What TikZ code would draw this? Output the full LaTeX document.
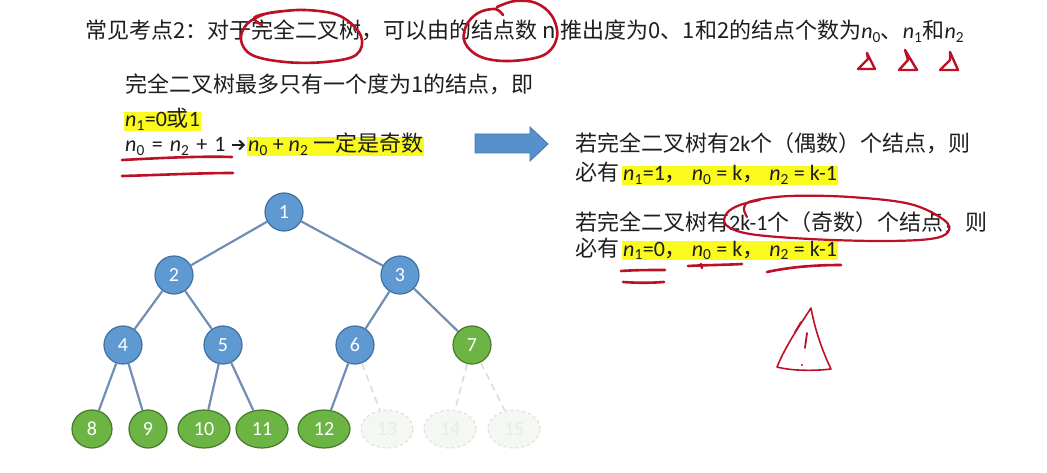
\documentclass[tikz,border=0pt]{standalone}
\usepackage{fontspec}
\setmainfont{Noto Sans CJK SC}
\newfontfamily\lat{Carlito}
\usetikzlibrary{shapes.geometric,arrows.meta}
\newcommand{\nv}[1]{\textit{n}\textsubscript{#1}}
\newcommand{\fs}{\fontsize{22}{26}\selectfont}
\newcommand{\gap}{\hspace{7pt}}
\definecolor{textgray}{RGB}{30,30,30}
\definecolor{hly}{RGB}{250,250,30}
\definecolor{tblue}{RGB}{95,153,210}
\definecolor{tblueb}{RGB}{65,113,160}
\definecolor{edgec}{RGB}{112,142,182}
\definecolor{tgreen}{RGB}{108,180,68}
\definecolor{tgreenb}{RGB}{72,122,44}
\definecolor{ghostfill}{RGB}{245,248,242}
\definecolor{ghostdraw}{RGB}{222,228,218}
\definecolor{ghosttext}{RGB}{232,236,228}
\definecolor{ghostline}{RGB}{218,218,218}
\definecolor{penred}{RGB}{188,16,38}
\definecolor{arrowblue}{RGB}{86,145,205}
\definecolor{arrowblueb}{RGB}{66,118,172}
\begin{document}
\begin{tikzpicture}[x=1pt,y=-1pt,
  txt/.style={anchor=base west, inner sep=0pt, font=\fs, text=textgray},
  hl/.style={txt, fill=hly, text height=15pt, text depth=4pt, inner xsep=1pt, inner ysep=0pt},
  treenode/.style={inner sep=0pt, line width=1.2pt, font=\lat\fontsize{20}{24}\selectfont},
  bnode/.style={treenode, circle, minimum size=38pt, fill=tblue, draw=tblueb, text=white},
  gnode/.style={treenode, ellipse, minimum height=38pt, minimum width=52pt, fill=tgreen, draw=tgreenb, text=white},
  ghost/.style={treenode, ellipse, minimum height=38pt, minimum width=52pt, fill=ghostfill, draw=ghostdraw, dashed, text=ghosttext},
  edge/.style={draw=edgec, line width=2.2pt},
  dedge/.style={draw=ghostline, line width=1.5pt, dash pattern=on 7pt off 5pt},
  pen/.style={draw=penred, line width=2.6pt, line cap=round, line join=round},
  implies/.style={draw=textgray, line width=1.9pt, -{Straight Barb[length=4.5pt,width=9pt,line width=1.9pt]}}
]
\useasboundingbox (0,0) rectangle (1047,473);
\fill[white] (0,0) rectangle (1047,473);

% top line
\node[txt] (top) at (85,39) {常见考点2：对于完全二叉树，可以由的结点数 n 推出度为0、1和2的结点个数为{\lat\nv0}、{\lat\nv1}和{\lat\nv2}};

% left block
\node[txt] (l1) at (125,93) {完全二叉树最多只有一个度为1的结点，即};
\node[hl] (l2) at (124,127) {{\lat\nv1=0}或{\lat 1}};
\node[txt] (l3a) at (125,152) {\lat\nv0\gap=\gap\nv2\gap+\gap1};
\coordinate (ara) at (232,145);
\coordinate (arb) at (245,145);
\draw[implies] (ara) -- (arb);
\node[hl] (l3c) at (247,152) {{\lat\nv0 + \nv2} 一定是奇数};

% block arrow
\filldraw[fill=arrowblue, draw=arrowblueb, line width=0.8pt]
  (475,134) -- (530,134) -- (530,127) -- (548,144) -- (530,161) -- (530,153) -- (475,153) -- cycle;

% right block
\node[txt] (r1) at (575,152) {若完全二叉树有{\lat 2k}个（偶数）个结点，则};
\node[txt] (r2) at (575,181) {必有};
\node[hl] (r2h) at (622,181) {{\lat\nv1=1}，{\lat\ \nv0 = k}，{\lat\ \nv2 = k-1}};
\node[txt] (r3) at (575,231) {若完全二叉树有{\lat 2k-1}个（奇数）个结点，则};
\node[txt] (r4) at (575,256) {必有};
\node[hl] (r4h) at (622,256) {{\lat\nv1=0}，{\lat\ \nv0 = k}，{\lat\ \nv2 = k-1}};

% tree
\node[bnode] (n1) at (284,212) {1};
\node[bnode] (n2) at (174,275) {2};
\node[bnode] (n3) at (400,275) {3};
\node[bnode] (n4) at (123,345) {4};
\node[bnode] (n5) at (223,345) {5};
\node[bnode] (n6) at (355,345) {6};
\node[gnode, minimum width=38pt] (n7) at (472,345) {7};
\node[gnode, minimum width=40pt] (n8) at (92,429) {8};
\node[gnode, minimum width=38pt] (n9) at (148,429) {9};
\node[gnode] (n10) at (204,429) {10};
\node[gnode] (n11) at (262,429) {11};
\node[gnode] (n12) at (324,429) {12};
\node[ghost] (n13) at (387,429) {13};
\node[ghost] (n14) at (450,429) {14};
\node[ghost] (n15) at (514,429) {15};

\draw[edge] (n1) -- (n2);
\draw[edge] (n1) -- (n3);
\draw[edge] (n2) -- (n4);
\draw[edge] (n2) -- (n5);
\draw[edge] (n3) -- (n6);
\draw[edge] (n3) -- (n7);
\draw[edge] (n4) -- (n8);
\draw[edge] (n4) -- (n9);
\draw[edge] (n5) -- (n10);
\draw[edge] (n5) -- (n11);
\draw[edge] (n6) -- (n12);
\draw[dedge] (n6) -- (n13);
\draw[dedge] (n7) -- (n14);
\draw[dedge] (n7) -- (n15);

% red annotations
\draw[pen] plot[smooth, tension=0.6] coordinates {(262,25) (254,18) (270,13) (305,10) (340,16) (361,36) (356,55) (325,62) (285,62) (252,55) (241,40) (247,24) (265,14) (285,11)};
\draw[pen] plot[smooth, tension=0.6] coordinates {(503,15) (495,9) (478,13) (466,26) (465,43) (481,57) (510,61) (544,55) (557,37) (552,16) (536,3) (515,1) (497,7)};
% marks under n0 n1 n2
\draw[pen, line width=2.4pt] (867,53) -- (868,59) -- (858,69) -- (875,69) -- cycle;
\draw[pen, line width=2.4pt] (905,50) -- (908,60) -- (899,70) -- (917,70) -- cycle;
\draw[pen, line width=2.4pt] (950,52) -- (950,60) -- (940,70) -- (958,70) -- cycle;
% left underlines
\draw[pen] (122,160) .. controls (160,158) and (200,156) .. (232,157);
\draw[pen] (122,176) .. controls (160,175) and (200,173) .. (233,173);
% ellipse around 2k-1...
\draw[pen, line width=2.2pt] plot[smooth, tension=0.6] coordinates {(747,217) (744,208) (752,201) (790,196) (850,197) (910,204) (944,220) (948,232) (930,239) (880,241) (810,239) (750,234) (726,225) (727,213) (740,205) (760,200)};
% right underlines
\draw[pen] (621,271) .. controls (635,270) and (650,270) .. (665,270);
\draw[pen] (623,282) .. controls (637,283) and (650,283) .. (664,282);
\draw[pen] (688,266) .. controls (705,265) and (725,265) .. (742,264);
\draw[pen] (701,264) -- (702,268);
\draw[pen] (767,272) .. controls (790,267) and (815,265) .. (841,265);
% warning sign
\draw[pen, line width=1.6pt] (811,308) .. controls (800,325) and (786,345) .. (777,367)
  .. controls (792,371) and (815,371) .. (831,369) .. controls (822,350) and (815,330) .. (811,308);
\draw[pen, line width=1.6pt] (795,332) -- (801,322);
\draw[pen, line width=1.8pt] (807,333) -- (805,348);
\fill[penred] (802,365) circle (1.2pt);
\end{tikzpicture}
\end{document}
